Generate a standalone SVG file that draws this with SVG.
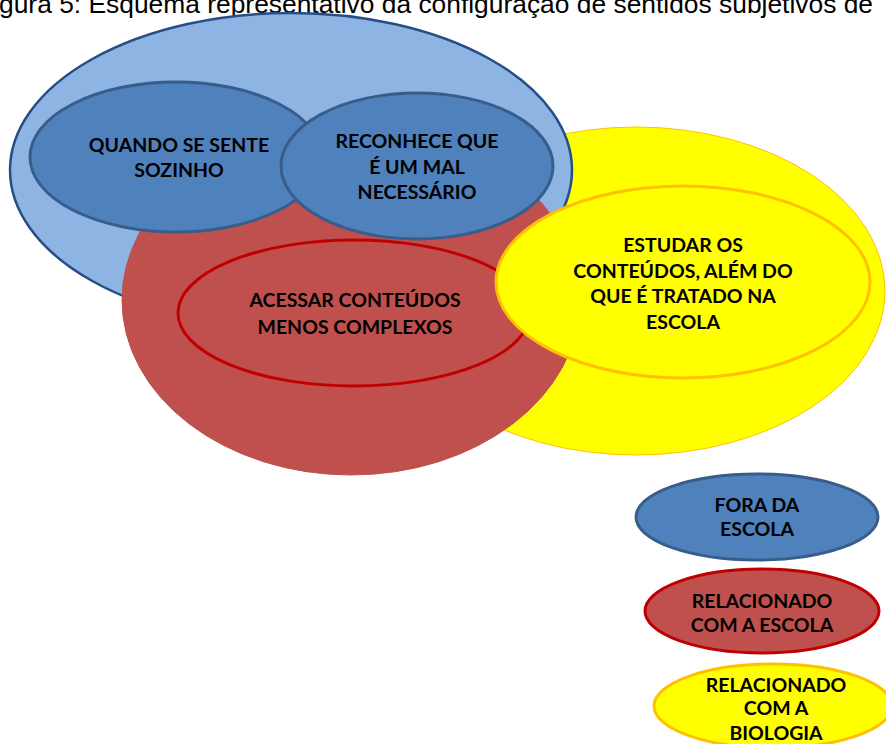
<svg xmlns="http://www.w3.org/2000/svg" width="886" height="744" viewBox="0 0 886 744">
<style>
.t{font-family:Lato,"Open Sans","Liberation Sans",sans-serif;font-weight:bold;font-size:19.5px;fill:#000;text-anchor:middle}
.title{font-family:"Liberation Sans",Arial,sans-serif;font-size:26px;fill:#000}
.lb{fill:#8EB4E3;stroke:#254E86;stroke-width:2.5}
.db{fill:#4F81BD;stroke:#385D8A;stroke-width:3}
.rd{fill:#C0504D;stroke:#C0504D;stroke-width:1}
.rdi{fill:#C0504D;stroke:#C00000;stroke-width:3}
.yl{fill:#FFFF00;stroke:#FFC000;stroke-width:1}
.yli{fill:#FFFF00;stroke:#FFC000;stroke-width:3}
</style>
<rect width="886" height="744" fill="#fff"/>
<text class="title" x="-1" y="13" textLength="874" lengthAdjust="spacingAndGlyphs">gura 5: Esquema representativo da configuração de sentidos subjetivos de</text>
<g id="biologia-outer"><ellipse class="yl" cx="636" cy="291" rx="249" ry="164"/></g>
<g id="fora-outer"><ellipse class="lb" cx="291" cy="170" rx="281" ry="157"/></g>
<g id="escola-outer"><ellipse class="rd" cx="351" cy="300" rx="229" ry="175"/></g>
<g id="sozinho"><ellipse class="db" cx="176" cy="157" rx="146" ry="75"/>
<text class="t" x="179" y="152">QUANDO SE SENTE</text><text class="t" x="179" y="177">SOZINHO</text></g>
<g id="mal-necessario"><ellipse class="db" cx="417" cy="166" rx="136" ry="73"/>
<text class="t" x="417" y="148">RECONHECE QUE</text><text class="t" x="417" y="174">É UM MAL</text><text class="t" x="417" y="199">NECESSÁRIO</text></g>
<g id="acessar"><ellipse class="rdi" cx="354" cy="313" rx="176" ry="73"/>
<text class="t" x="355" y="307">ACESSAR CONTEÚDOS</text><text class="t" x="355" y="334">MENOS COMPLEXOS</text></g>
<g id="estudar"><ellipse class="yli" cx="683" cy="282" rx="187" ry="96"/>
<text class="t" x="683" y="252">ESTUDAR OS</text><text class="t" x="683" y="278">CONTEÚDOS, ALÉM DO</text><text class="t" x="683" y="303">QUE É TRATADO NA</text><text class="t" x="683" y="329">ESCOLA</text></g>
<g id="legend-fora"><ellipse class="db" cx="757" cy="517" rx="121" ry="43"/>
<text class="t" x="757" y="512">FORA DA</text><text class="t" x="757" y="536">ESCOLA</text></g>
<g id="legend-escola"><ellipse class="rdi" cx="762" cy="611" rx="117" ry="42"/>
<text class="t" x="762" y="608">RELACIONADO</text><text class="t" x="762" y="632">COM A ESCOLA</text></g>
<g id="legend-biologia"><ellipse class="yli" cx="773" cy="706" rx="119" ry="42"/>
<text class="t" x="776" y="692">RELACIONADO</text><text class="t" x="776" y="715">COM A</text><text class="t" x="776" y="740">BIOLOGIA</text></g>
<g id="connectors"></g>
</svg>
